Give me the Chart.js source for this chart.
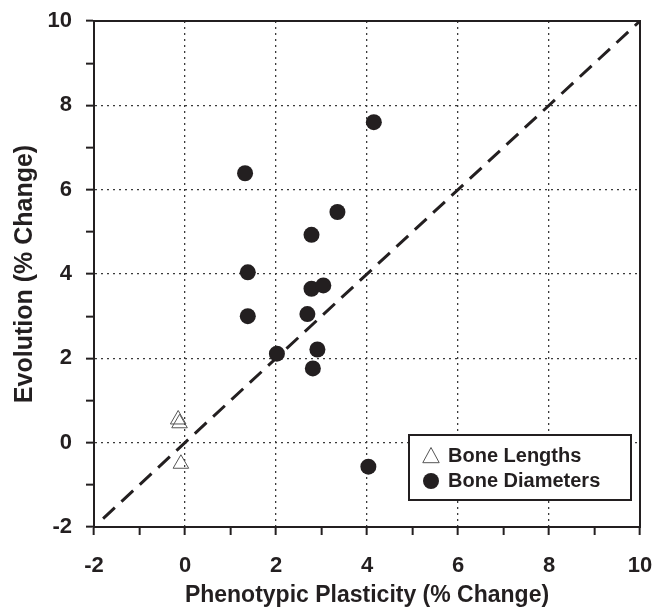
<!DOCTYPE html>
<html>
<head>
<meta charset="utf-8">
<script src="https://cdn.jsdelivr.net/npm/chart.js@4/dist/chart.umd.min.js"></script>
<style>
  html, body { margin: 0; padding: 0; background: #fff; }
  #c { display: block; }
</style>
</head>
<body>
<canvas id="c" width="667" height="609"></canvas>
<script>
// ---- data ----
const lengthsX = [-0.15, -0.12, -0.09];
const lengthsY = [0.55, 0.46, -0.50];
const diamX = [4.15, 1.32, 3.35, 2.78, 1.38, 2.78, 3.04, 1.38, 2.69, 2.02, 2.91, 2.81, 4.03];
const diamY = [7.60, 6.39, 5.47, 4.93, 4.04, 3.65, 3.73, 3.00, 3.05, 2.11, 2.21, 1.76, -0.57];
const lineX = [-1.8, 10];
const lineY = [-1.8, 10];
const seriesLabels = ['Bone Lengths', 'Bone Diameters'];
const xTitle = 'Phenotypic Plasticity (% Change)';
const yTitle = 'Evolution (% Change)';
const axisMin = -2, axisMax = 10;

const INK = '#231f20';
const FAMILY = '"Liberation Sans", Arial, sans-serif';
const toPts = (xs, ys) => xs.map((x, i) => ({x: x, y: ys[i]}));

const legendPlugin = {
  id: 'boxLegend',
  afterDatasetsDraw(chart) {
    const ctx = chart.ctx;
    const ds = chart.data.datasets;
    const x0 = 409, y0 = 435, w = 222, h = 65;
    ctx.save();
    ctx.fillStyle = '#fff';
    ctx.fillRect(x0, y0, w, h);
    ctx.lineWidth = 2;
    ctx.strokeStyle = INK;
    ctx.strokeRect(x0, y0, w, h);
    // triangle entry
    const tx = 431, ty = 457, r = 9.5;
    ctx.beginPath();
    ctx.moveTo(tx, ty - r);
    ctx.lineTo(tx + r * 0.866, ty + r * 0.6);
    ctx.lineTo(tx - r * 0.866, ty + r * 0.6);
    ctx.closePath();
    ctx.fillStyle = '#fff';
    ctx.fill();
    ctx.lineWidth = 1;
    ctx.strokeStyle = ds[0].borderColor;
    ctx.stroke();
    // circle entry
    ctx.beginPath();
    ctx.arc(431, 481, 8, 0, Math.PI * 2);
    ctx.fillStyle = ds[1].backgroundColor;
    ctx.fill();
    // text
    ctx.fillStyle = INK;
    ctx.font = 'bold 20px ' + FAMILY;
    ctx.textBaseline = 'middle';
    ctx.textAlign = 'left';
    ctx.fillText(ds[0].label, 448, 456);
    ctx.fillText(ds[1].label, 448, 481);
    ctx.restore();
  }
};

const gridColor = (ctx) => {
  const v = ctx.tick ? ctx.tick.value : null;
  if (v === null || v === axisMin || v === axisMax || Math.abs(v % 2) === 1) return 'rgba(0,0,0,0)';
  return '#3a3a3a';
};

const tickFont = {family: FAMILY, size: 22, weight: 'bold'};
const noPad = (s) => { s.paddingTop = 0; s.paddingBottom = 0; s.paddingLeft = 0; s.paddingRight = 0; };

new Chart(document.getElementById('c'), {
  type: 'scatter',
  data: {
    datasets: [
      {
        label: seriesLabels[0],
        data: toPts(lengthsX, lengthsY),
        pointStyle: 'triangle',
        pointRadius: 9,
        pointBackgroundColor: 'rgba(255,255,255,0)',
        backgroundColor: '#fff',
        borderColor: '#555',
        pointBorderColor: '#555',
        pointBorderWidth: 1,
        xAxisID: 'x', yAxisID: 'y'
      },
      {
        label: seriesLabels[1],
        data: toPts(diamX, diamY),
        pointStyle: 'circle',
        pointRadius: 8,
        backgroundColor: INK,
        borderColor: INK,
        pointBackgroundColor: INK,
        pointBorderColor: INK,
        pointBorderWidth: 0,
        xAxisID: 'x', yAxisID: 'y'
      },
      {
        type: 'line',
        label: 'y = x',
        data: toPts(lineX, lineY),
        borderColor: INK,
        borderWidth: 3,
        borderDash: [16, 9],
        pointRadius: 0,
        fill: false,
        showLine: true,
        xAxisID: 'x', yAxisID: 'y'
      }
    ]
  },
  options: {
    responsive: false,
    animation: false,
    layout: {padding: 0},
    plugins: {legend: {display: false}, tooltip: {enabled: false}},
    scales: {
      x: {
        type: 'linear', position: 'bottom', min: axisMin, max: axisMax,
        afterFit(s) { s.height = 82; noPad(s); },
        ticks: {
          stepSize: 1, autoSkip: false, maxRotation: 0, padding: 18,
          color: INK, font: tickFont,
          callback: (v) => (v % 2 === 0 ? String(v) : '')
        },
        grid: {color: gridColor, lineWidth: 1.3, tickLength: 8, tickWidth: 2, tickColor: INK, tickBorderDash: [], borderDash: [2, 4]},
        border: {display: true, color: INK, width: 2, dash: [2, 4]},
        title: {display: true, text: xTitle, color: INK, padding: {top: 0, bottom: 0},
          font: {family: FAMILY, size: 23, weight: 'bold'}}
      },
      y: {
        type: 'linear', position: 'left', min: axisMin, max: axisMax,
        afterFit(s) { s.width = 94; noPad(s); },
        ticks: {
          stepSize: 1, autoSkip: false, padding: 14,
          color: INK, font: tickFont,
          callback: (v) => (v % 2 === 0 ? String(v) : '')
        },
        grid: {color: gridColor, lineWidth: 1.3, tickLength: 8, tickWidth: 2, tickColor: INK, tickBorderDash: [], borderDash: [2, 4]},
        border: {display: true, color: INK, width: 2, dash: [2, 4]},
        title: {display: true, text: yTitle, color: INK, padding: {top: 10, bottom: 0},
          font: {family: FAMILY, size: 25, weight: 'bold'}}
      },
      xTop: {
        type: 'linear', position: 'top', min: axisMin, max: axisMax,
        afterFit(s) { s.height = 21; noPad(s); },
        ticks: {display: false},
        grid: {display: true, drawOnChartArea: false, drawTicks: false, color: 'rgba(0,0,0,0)'},
        border: {display: true, color: INK, width: 2}
      },
      yRight: {
        type: 'linear', position: 'right', min: axisMin, max: axisMax,
        afterFit(s) { s.width = 27; noPad(s); },
        ticks: {display: false},
        grid: {display: true, drawOnChartArea: false, drawTicks: false, color: 'rgba(0,0,0,0)'},
        border: {display: true, color: INK, width: 2}
      }
    }
  },
  plugins: [legendPlugin]
});
</script>
</body>
</html>
